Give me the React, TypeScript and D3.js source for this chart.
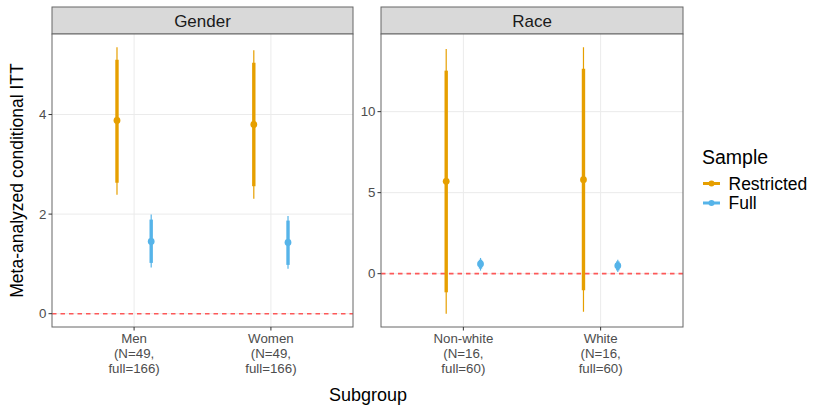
import * as d3 from 'd3';

// Facets and subgroups
const facets = ['Gender', 'Race'];
const subgroups = ['Men', 'Women', 'Non-white', 'White'];
const subgroupFacet = ['Gender', 'Gender', 'Race', 'Race'];
const tickLabels = [
  ['Men', '(N=49,', 'full=166)'],
  ['Women', '(N=49,', 'full=166)'],
  ['Non-white', '(N=16,', 'full=60)'],
  ['White', '(N=16,', 'full=60)'],
];
const yTicks = [
  [0, 2, 4],
  [0, 5, 10],
];

const samples = ['Restricted', 'Full'];
const sampleColors = ['#E69F00', '#56B4E9'];

// Restricted sample estimates (per subgroup)
const restrictedEst = [3.88, 3.8, 5.7, 5.8];
const restrictedInnerLo = [2.63, 2.56, -1.15, -1.03];
const restrictedInnerHi = [5.1, 5.04, 12.53, 12.65];
const restrictedOuterLo = [2.39, 2.31, -2.47, -2.35];
const restrictedOuterHi = [5.35, 5.29, 13.87, 13.97];

// Full sample estimates (per subgroup)
const fullEst = [1.45, 1.43, 0.6, 0.49];
const fullInnerLo = [1.02, 0.98, 0.31, 0.2];
const fullInnerHi = [1.89, 1.87, 0.86, 0.76];
const fullOuterLo = [0.93, 0.9, 0.19, 0.1];
const fullOuterHi = [1.99, 1.96, 0.97, 0.86];

const series = [
  { est: restrictedEst, ilo: restrictedInnerLo, ihi: restrictedInnerHi, olo: restrictedOuterLo, ohi: restrictedOuterHi },
  { est: fullEst, ilo: fullInnerLo, ihi: fullInnerHi, olo: fullOuterLo, ohi: fullOuterHi },
];

const W = 818;
const H = 405;
const panels = [
  { x0: 52, x1: 353 },
  { x0: 381, x1: 683 },
];
const stripTop = 7;
const panelTop = 34;
const panelBottom = 327;
const font = '"Liberation Sans", Arial, Helvetica, sans-serif';
const axisText = '#4d4d4d';
const border = '#666666';

function Panel({ fi }: { fi: number }) {
  const facet = facets[fi];
  const { x0, x1 } = panels[fi];
  const idx = subgroups.map((_, i) => i).filter((i) => subgroupFacet[i] === facet);

  // y domain: data range (incl. zero reference line) expanded by 5%
  const vals = [0, ...idx.flatMap((i) => series.flatMap((s) => [s.olo[i], s.ohi[i]]))];
  const lo = d3.min(vals)!;
  const hi = d3.max(vals)!;
  const pad = (hi - lo) * 0.05;
  const y = d3.scaleLinear().domain([lo - pad, hi + pad]).range([panelBottom, panelTop]);

  const x = d3.scalePoint<string>().domain(idx.map((i) => subgroups[i])).range([x0, x1]).padding(0.6);
  const step = x.step();
  const dodge = d3.scalePoint<string>().domain(samples).range([-step * 0.125, step * 0.125]);

  return (
    <g>
      {/* strip */}
      <rect x={x0} y={stripTop} width={x1 - x0} height={panelTop - stripTop} fill="#d9d9d9" stroke={border} strokeWidth={1} />
      <text x={(x0 + x1) / 2} y={27} textAnchor="middle" fontSize={17} fill="#1a1a1a">
        {facet}
      </text>
      {/* panel background + grid */}
      <rect x={x0} y={panelTop} width={x1 - x0} height={panelBottom - panelTop} fill="#fff" />
      {yTicks[fi].map((t) => (
        <line key={'h' + t} x1={x0} x2={x1} y1={y(t)} y2={y(t)} stroke="#ebebeb" strokeWidth={1} />
      ))}
      {idx.map((i) => (
        <line key={'v' + i} x1={x(subgroups[i])} x2={x(subgroups[i])} y1={panelTop} y2={panelBottom} stroke="#ebebeb" strokeWidth={1} />
      ))}
      {/* zero reference */}
      <line x1={x0} x2={x1} y1={y(0)} y2={y(0)} stroke="#ff3d3d" strokeOpacity={0.85} strokeWidth={1.6} strokeDasharray="4.5,4" />
      {/* pointranges */}
      {samples.map((s, si) =>
        idx.map((i) => {
          const cx = x(subgroups[i])! + dodge(s)!;
          const d = series[si];
          return (
            <g key={s + i} stroke={sampleColors[si]} fill={sampleColors[si]}>
              <line x1={cx} x2={cx} y1={y(d.olo[i])} y2={y(d.ohi[i])} strokeWidth={1.2} />
              <line x1={cx} x2={cx} y1={y(d.ilo[i])} y2={y(d.ihi[i])} strokeWidth={3.4} />
              <circle cx={cx} cy={y(d.est[i])} r={3.4} stroke="none" />
            </g>
          );
        })
      )}
      <rect x={x0} y={panelTop} width={x1 - x0} height={panelBottom - panelTop} fill="none" stroke={border} strokeWidth={1} />
      {/* y axis */}
      {yTicks[fi].map((t) => (
        <g key={'yt' + t}>
          <line x1={x0 - 3.5} x2={x0} y1={y(t)} y2={y(t)} stroke="#333" strokeWidth={1} />
          <text x={x0 - 5.5} y={y(t)} dy="0.35em" textAnchor="end" fontSize={13.3} fill={axisText}>
            {t}
          </text>
        </g>
      ))}
      {/* x axis */}
      {idx.map((i) => {
        const px = x(subgroups[i])!;
        return (
          <g key={'xt' + i}>
            <line x1={px} x2={px} y1={panelBottom} y2={panelBottom + 3.5} stroke="#333" strokeWidth={1} />
            {tickLabels[i].map((ln, li) => (
              <text key={li} x={px} y={343 + li * 14.8} textAnchor="middle" fontSize={13.3} fill={axisText}>
                {ln}
              </text>
            ))}
          </g>
        );
      })}
    </g>
  );
}

export default function App() {
  return (
    <div style={{ position: 'absolute', left: 0, top: 0 }}>
      <svg width={W} height={H} viewBox={`0 0 ${W} ${H}`} fontFamily={font} style={{ display: 'block' }}>
        <rect x={0} y={0} width={W} height={H} fill="#fff" />
        {facets.map((_, fi) => (
          <Panel key={fi} fi={fi} />
        ))}
        {/* axis titles */}
        <text x={368} y={401} textAnchor="middle" fontSize={18} fill="#000">
          Subgroup
        </text>
        <text transform={`translate(23,${(panelTop + panelBottom) / 2}) rotate(-90)`} textAnchor="middle" fontSize={17.5} fill="#000">
          Meta-analyzed conditional ITT
        </text>
        {/* legend */}
        <text x={702} y={164} fontSize={19.5} fill="#000">
          Sample
        </text>
        {samples.map((s, si) => {
          const ly = 183.5 + si * 19.5;
          return (
            <g key={s}>
              <line x1={703} x2={720} y1={ly} y2={ly} stroke={sampleColors[si]} strokeWidth={3} />
              <circle cx={711.5} cy={ly} r={3} fill={sampleColors[si]} />
              <text x={728.5} y={ly} dy="0.36em" fontSize={17.5} fill="#000">
                {s}
              </text>
            </g>
          );
        })}
      </svg>
    </div>
  );
}
